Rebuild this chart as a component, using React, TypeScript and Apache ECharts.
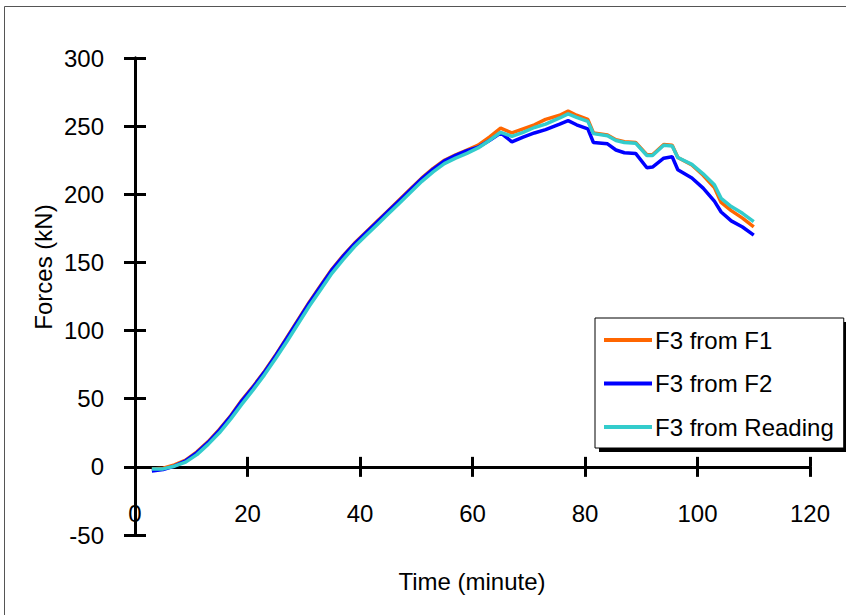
import React, { useEffect, useRef } from "react";
import * as echarts from "echarts";

const timeMin = [3, 5, 7, 9, 11, 13, 15, 17, 19, 21, 23, 25, 27, 29, 31, 33, 35, 37, 39, 41, 43, 45, 47, 49, 51, 53, 55, 57, 59, 61, 63, 65, 67, 69, 71, 73, 75.5, 77, 78.5, 80.5, 81.5, 84, 85.5, 87, 89, 91, 92, 94, 95.5, 96.5, 99, 101, 103, 104.2, 106, 108, 110];

const f3FromF1 = [-1.5, -1, 1.5, 5, 11, 18.5, 27.5, 37.5, 49, 59, 70, 82, 95, 108, 121, 133, 145, 155, 164, 172, 180, 188, 196, 204, 212, 219, 225, 229, 232.5, 236, 242, 248.5, 245, 248, 251, 255, 258, 261, 258, 255, 245, 243.5, 240, 238.5, 238, 229, 229, 236.5, 236, 227, 221.5, 214, 205, 194, 188, 182.5, 176];

const f3FromF2 = [-3, -2, 0.5, 4.5, 10.5, 18, 27, 37, 48.5, 58.5, 69.5, 81.5, 94.5, 107.5, 120.5, 132.5, 144.5, 154.5, 163.5, 171.5, 179.5, 187.5, 195.5, 203.5, 211.5, 218.5, 224.5, 228.5, 232, 234.5, 239.5, 245, 238.5, 242, 245, 247.5, 251.5, 254, 251, 248, 238, 237, 232.5, 230.5, 230, 219.5, 220, 226.5, 227.5, 218, 212, 204.5, 195, 187, 180.5, 176, 170];

const f3FromReading = [-1.5, -1.5, 0.5, 3.5, 9, 16.5, 25, 35, 46, 56.5, 67.5, 79.5, 92, 105, 118, 130, 142, 152, 161.5, 169.5, 177.5, 185.5, 193.5, 201.5, 209.5, 216.5, 222.5, 226.5, 230, 234, 239.5, 245.5, 242.5, 245.5, 249, 251.5, 256, 259, 256.5, 253.5, 244.5, 243, 239.5, 238, 237.5, 228.5, 228.5, 236, 235.5, 227, 222, 215, 207, 197, 191, 186, 180];

const seriesNames = ["F3 from F1", "F3 from F2", "F3 from Reading"];
const seriesValues = [f3FromF1, f3FromF2, f3FromReading];
const seriesColors = ["#FF6600", "#0000FF", "#33CCCC"];

const FONT = "'Liberation Sans', Arial, Helvetica, sans-serif";

export default function App() {
  const ref = useRef<HTMLDivElement>(null);
  useEffect(() => {
    if (!ref.current) return;
    const chart = echarts.init(ref.current, undefined, { renderer: "svg" });
    const axisCommon = {
      type: "value" as const,
      min: 0,
      max: 120,
      interval: 20,
      splitLine: { show: false },
    };
    const yCommon = {
      type: "value" as const,
      min: -50,
      max: 300,
      interval: 50,
      splitLine: { show: false },
    };
    chart.setOption({
      animation: false,
      backgroundColor: "#ffffff",
      grid: { left: 135, right: 36, top: 58, bottom: 80, containLabel: false },
      xAxis: [
        {
          ...axisCommon,
          position: "bottom",
          axisLine: { show: true, onZero: true, lineStyle: { color: "#000", width: 3 } },
          axisTick: { show: true, inside: false, length: 10, lineStyle: { color: "#000", width: 3 } },
          axisLabel: { show: true, margin: -34, color: "#000", fontSize: 24, fontFamily: FONT },
        },
        {
          ...axisCommon,
          position: "top",
          axisLine: { show: true, onZero: true, lineStyle: { color: "#000", width: 3 } },
          axisTick: { show: true, inside: false, length: 10, lineStyle: { color: "#000", width: 3 } },
          axisLabel: { show: false },
        },
      ],
      yAxis: [
        {
          ...yCommon,
          position: "left",
          axisLine: { show: true, onZero: true, lineStyle: { color: "#000", width: 3 } },
          axisTick: { show: true, inside: false, length: 11, lineStyle: { color: "#000", width: 3 } },
          axisLabel: { show: true, margin: 31, color: "#000", fontSize: 24, fontFamily: FONT },
        },
        {
          ...yCommon,
          position: "right",
          axisLine: { show: true, onZero: true, lineStyle: { color: "#000", width: 3 } },
          axisTick: { show: true, inside: false, length: 11, lineStyle: { color: "#000", width: 3 } },
          axisLabel: { show: false },
        },
      ],
      legend: {
        left: 595,
        top: 318,
        orient: "vertical",
        width: 250,
        padding: [7, 10, 6, 9],
        itemGap: 13.5,
        itemWidth: 48,
        itemHeight: 4,
        icon: "rect",
        backgroundColor: "#ffffff",
        borderColor: "#000",
        borderWidth: 1,
        z: 10,
        textStyle: { color: "#000", fontSize: 24, fontFamily: FONT, lineHeight: 30, padding: [0, 0, 0, -2] },
        data: seriesNames,
      },
      series: seriesNames.map((name, i) => ({
        name,
        type: "line",
        xAxisIndex: 0,
        yAxisIndex: 0,
        showSymbol: false,
        symbol: "none",
        smooth: false,
        z: 3 + i,
        lineStyle: { color: seriesColors[i], width: 3.5 },
        itemStyle: { color: seriesColors[i] },
        data: timeMin.map((t, k) => [t, seriesValues[i][k]]),
      })),
      graphic: [
        {
          type: "rect",
          z: -10,
          silent: true,
          shape: { x: 4.5, y: 6.5, width: 900, height: 700 },
          style: { fill: "none", stroke: "#555", lineWidth: 1 },
        },
        {
          type: "rect",
          z: 5,
          silent: true,
          shape: { x: 599, y: 322, width: 250, height: 130 },
          style: { fill: "#000" },
        },
        {
          type: "text",
          x: 43,
          y: 267,
          rotation: Math.PI / 2,
          style: {
            text: "Forces (kN)",
            font: `24px ${FONT}`,
            fill: "#000",
            textAlign: "center",
            textVerticalAlign: "middle",
          },
        },
        {
          type: "text",
          x: 472,
          y: 581,
          style: {
            text: "Time (minute)",
            font: `24px ${FONT}`,
            fill: "#000",
            textAlign: "center",
            textVerticalAlign: "middle",
          },
        },
      ],
    });
    return () => chart.dispose();
  }, []);
  return (
    <div
      ref={ref}
      style={{ position: "absolute", left: 0, top: 0, width: 846, height: 615 }}
    />
  );
}
